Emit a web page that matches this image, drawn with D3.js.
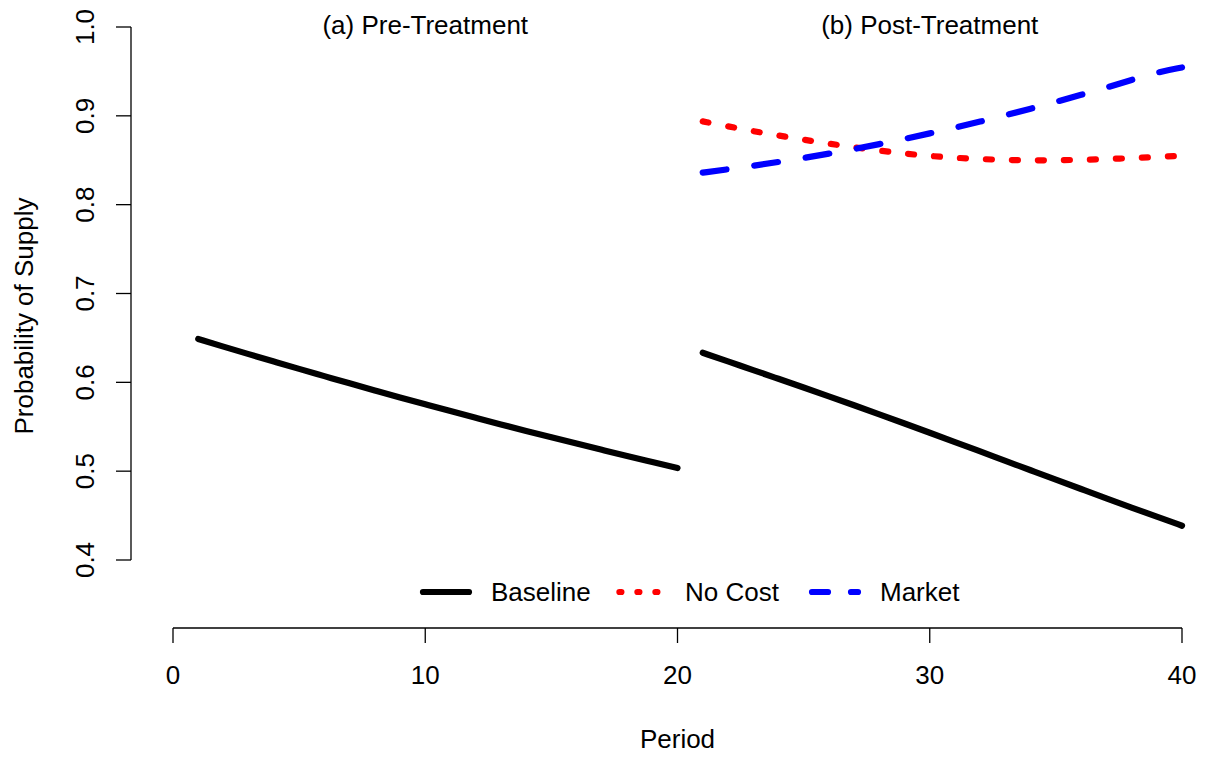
<!DOCTYPE html>
<html>
<head>
<meta charset="utf-8">
<script src="https://cdn.jsdelivr.net/npm/d3@7"></script>
<style>
  html, body { margin: 0; padding: 0; background: #fff; }
  svg { display: block; }
  text { font-family: "Liberation Sans", Arial, Helvetica, sans-serif; fill: #000; }
</style>
</head>
<body>
<svg id="chart" width="1205" height="757"></svg>
<script>
// ---- data ----
const periodsPre = [1,2,3,4,5,6,7,8,9,10,11,12,13,14,15,16,17,18,19,20];
const periodsPost = [21,22,23,24,25,26,27,28,29,30,31,32,33,34,35,36,37,38,39,40];
const baselinePre = [0.6488,0.6402,0.6317,0.6234,0.6151,0.6070,0.5988,0.5909,0.5830,0.5753,
                     0.5676,0.5601,0.5526,0.5453,0.5381,0.5310,0.5240,0.5170,0.5103,0.5035];
const baselinePost = [0.6333,0.6235,0.6138,0.6040,0.5942,0.5843,0.5742,0.5640,0.5537,0.5433,
                      0.5328,0.5222,0.5116,0.5010,0.4904,0.4799,0.4694,0.4590,0.4488,0.4386];
const noCostPost = [0.8938,0.8881,0.8828,0.8778,0.8731,0.8687,0.8646,0.8609,0.8575,0.8548,
                    0.8528,0.8513,0.8503,0.8499,0.8500,0.8505,0.8513,0.8524,0.8537,0.8550];
const marketPost = [0.8360,0.8398,0.8438,0.8480,0.8525,0.8574,0.8626,0.8681,0.8740,0.8802,
                    0.8867,0.8935,0.9006,0.9080,0.9157,0.9236,0.9318,0.9403,0.9490,0.9545];
const xTicks = [0,10,20,30,40];
const yTicks = [0.4,0.5,0.6,0.7,0.8,0.9,1.0];
const panelTitles = ["(a) Pre-Treatment", "(b) Post-Treatment"];
const panelTitleAt = [10, 30];
const legendLabels = ["Baseline", "No Cost", "Market"];

// ---- layout ----
const svg = d3.select("#chart");
const FS = 26;
const x = d3.scaleLinear().domain([0, 40]).range([173, 1182]);
const y = d3.scaleLinear().domain([0.4, 1.0]).range([560, 27]);
const xAxisY = 628;
const yAxisX = 131;
const tickLen = 15;

// y axis
svg.append("line").attr("x1", yAxisX).attr("x2", yAxisX)
  .attr("y1", y(0.4)).attr("y2", y(1.0)).attr("stroke", "#000").attr("stroke-width", 1.3);
yTicks.forEach(t => {
  svg.append("line").attr("x1", yAxisX - tickLen).attr("x2", yAxisX)
    .attr("y1", y(t)).attr("y2", y(t)).attr("stroke", "#000").attr("stroke-width", 1.3);
  svg.append("text")
    .attr("transform", `translate(94,${y(t)}) rotate(-90)`)
    .attr("text-anchor", "middle").attr("font-size", FS)
    .text(d3.format(".1f")(t));
});

// x axis
svg.append("line").attr("x1", x(0)).attr("x2", x(40))
  .attr("y1", xAxisY).attr("y2", xAxisY).attr("stroke", "#000").attr("stroke-width", 1.3);
xTicks.forEach(t => {
  svg.append("line").attr("x1", x(t)).attr("x2", x(t))
    .attr("y1", xAxisY).attr("y2", xAxisY + tickLen).attr("stroke", "#000").attr("stroke-width", 1.3);
  svg.append("text").attr("x", x(t)).attr("y", 684)
    .attr("text-anchor", "middle").attr("font-size", FS).text(t);
});

// axis titles
svg.append("text").attr("x", x(20)).attr("y", 748)
  .attr("text-anchor", "middle").attr("font-size", FS).text("Period");
svg.append("text").attr("transform", "translate(33,316) rotate(-90)")
  .attr("text-anchor", "middle").attr("font-size", FS).text("Probability of Supply");

// panel titles
panelTitles.forEach((s, i) => {
  svg.append("text").attr("x", x(panelTitleAt[i])).attr("y", 33.5)
    .attr("text-anchor", "middle").attr("font-size", FS).text(s);
});

// lines
const line = d3.line().x(d => x(d[0])).y(d => y(d[1])).curve(d3.curveBasis);
const LW = 6.2;
function drawSeries(px, vals, color, dash) {
  svg.append("path").datum(px.map((p, i) => [p, vals[i]]))
    .attr("d", line).attr("fill", "none").attr("stroke", color)
    .attr("stroke-width", LW).attr("stroke-linecap", "round").attr("stroke-linejoin", "round")
    .attr("stroke-dasharray", dash);
}
drawSeries(periodsPre, baselinePre, "#000", null);
drawSeries(periodsPost, baselinePost, "#000", null);
drawSeries(periodsPost, noCostPost, "#ff0000", "6 20");
drawSeries(periodsPost, marketPost, "#0000ff", "24 28");

// legend
const legY = 592;
const legend = [
  {label: legendLabels[0], color: "#000", dash: null, x1: 423, x2: 469, tx: 491},
  {label: legendLabels[1], color: "#ff0000", dash: "2 16", x1: 619.4, x2: 660, tx: 685},
  {label: legendLabels[2], color: "#0000ff", dash: "16 23", x1: 812, x2: 858, tx: 880}
];
legend.forEach(l => {
  svg.append("line").attr("x1", l.x1).attr("x2", l.x2).attr("y1", legY).attr("y2", legY)
    .attr("stroke", l.color).attr("stroke-width", LW).attr("stroke-linecap", "round")
    .attr("stroke-dasharray", l.dash);
  svg.append("text").attr("x", l.tx).attr("y", legY + 9).attr("font-size", FS).text(l.label);
});
</script>
</body>
</html>
